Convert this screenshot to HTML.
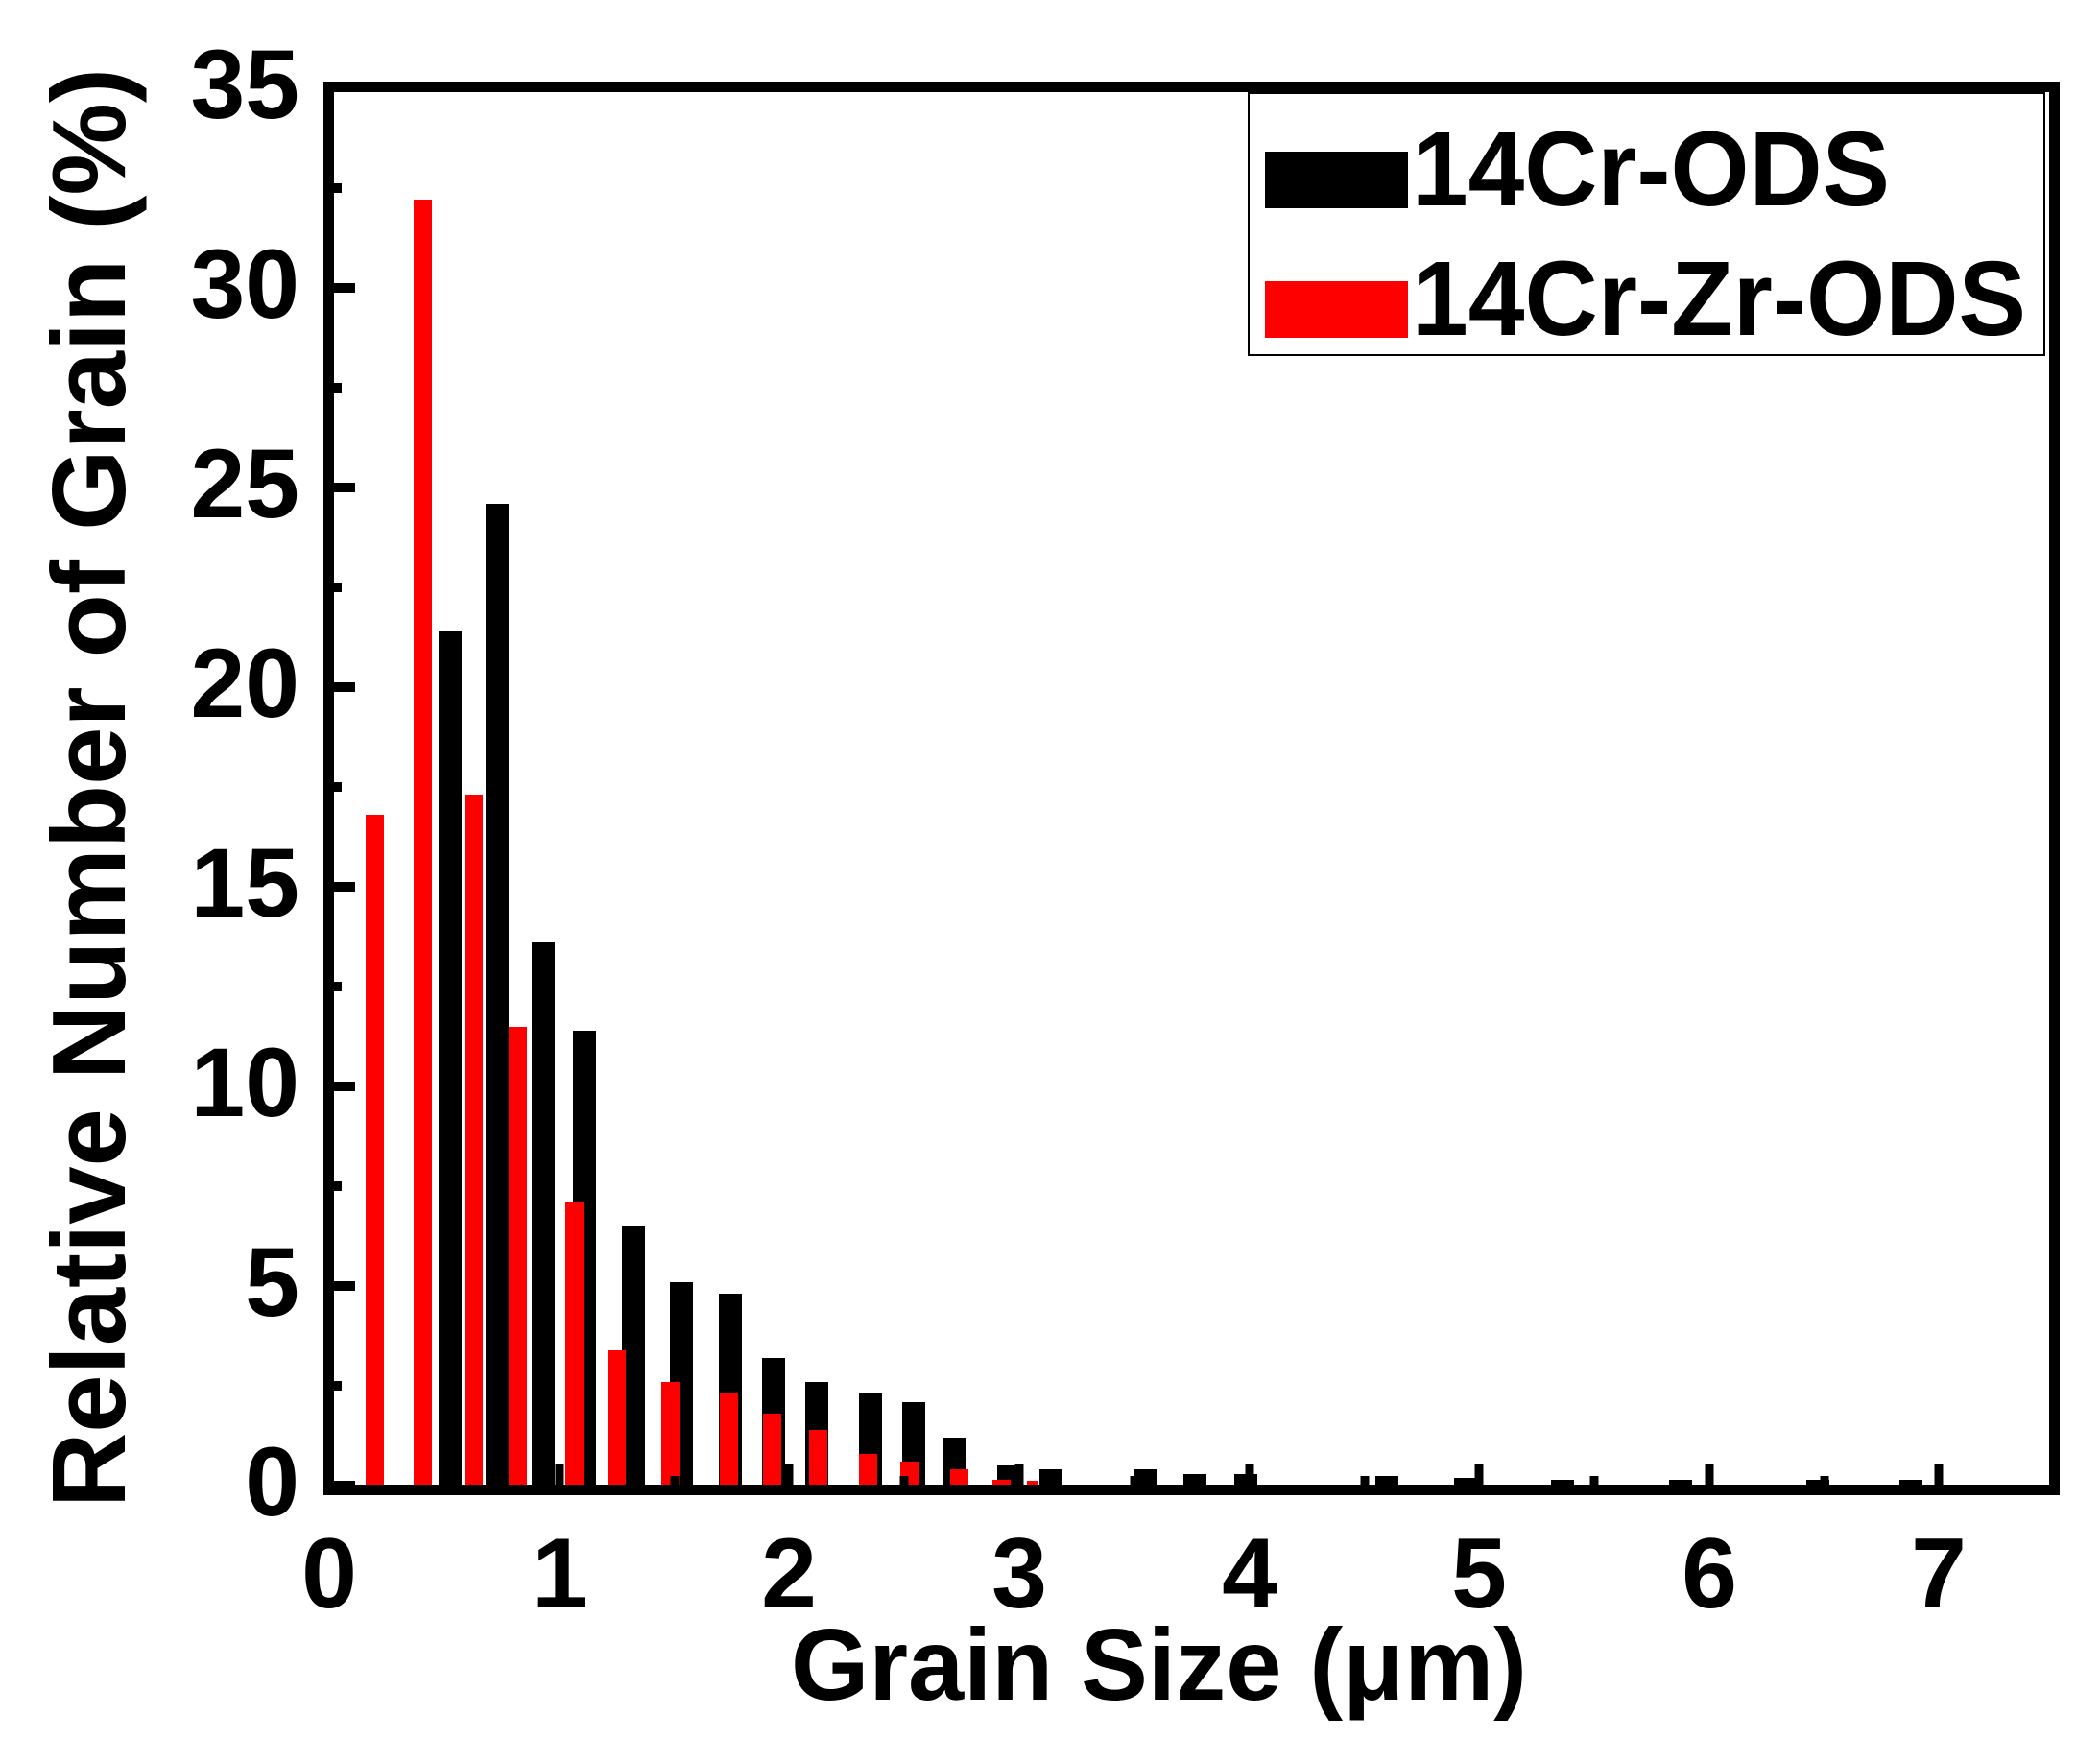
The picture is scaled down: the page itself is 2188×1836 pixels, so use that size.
<!DOCTYPE html>
<html><head><meta charset="utf-8"><style>
html,body{margin:0;padding:0;background:#fff;}
svg{display:block;}
text{font-family:"Liberation Sans",sans-serif;font-weight:bold;fill:#000;}
</style></head><body>
<svg width="2188" height="1836" viewBox="0 0 2188 1836" xmlns="http://www.w3.org/2000/svg">
<g fill="#000">
<rect x="457" y="658" width="24" height="890"/>
<rect x="506" y="525" width="24" height="1023"/>
<rect x="554" y="982" width="24" height="566"/>
<rect x="597" y="1074" width="24" height="474"/>
<rect x="648" y="1278" width="24" height="270"/>
<rect x="698" y="1336" width="24" height="212"/>
<rect x="749" y="1348" width="24" height="200"/>
<rect x="794" y="1415" width="24" height="133"/>
<rect x="839" y="1440" width="24" height="108"/>
<rect x="895" y="1452" width="24" height="96"/>
<rect x="940" y="1461" width="24" height="87"/>
<rect x="983" y="1498" width="24" height="50"/>
<rect x="1039" y="1527" width="24" height="21"/>
<rect x="1083" y="1531" width="24" height="17"/>
<rect x="1182" y="1531" width="24" height="17"/>
<rect x="1233" y="1536" width="24" height="12"/>
<rect x="1286" y="1536" width="24" height="12"/>
<rect x="1433" y="1538" width="24" height="10"/>
<rect x="1515" y="1540" width="24" height="8"/>
<rect x="1616" y="1542" width="24" height="6"/>
<rect x="1739" y="1542" width="24" height="6"/>
<rect x="1882" y="1542" width="24" height="6"/>
<rect x="1979" y="1542" width="24" height="6"/>
</g>
<g fill="#ff0000">
<rect x="381" y="849" width="19" height="699"/>
<rect x="431" y="208" width="19" height="1340"/>
<rect x="484" y="828" width="19" height="720"/>
<rect x="530" y="1070" width="19" height="478"/>
<rect x="589" y="1253" width="19" height="295"/>
<rect x="633" y="1407" width="19" height="141"/>
<rect x="689" y="1440" width="19" height="108"/>
<rect x="750" y="1452" width="19" height="96"/>
<rect x="795" y="1473" width="19" height="75"/>
<rect x="843" y="1490" width="19" height="58"/>
<rect x="895" y="1515" width="19" height="33"/>
<rect x="938" y="1523" width="19" height="25"/>
<rect x="990" y="1531" width="19" height="17"/>
<rect x="1034" y="1542" width="19" height="6"/>
<rect x="1070" y="1543" width="12" height="5"/>
</g>
<rect x="342.5" y="90.5" width="1798" height="1462" fill="none" stroke="#000" stroke-width="11"/>
<g stroke="#000" stroke-width="10">
<line x1="348" y1="1548" x2="370" y2="1548"/>
<line x1="348" y1="1340" x2="370" y2="1340"/>
<line x1="348" y1="1132" x2="370" y2="1132"/>
<line x1="348" y1="924" x2="370" y2="924"/>
<line x1="348" y1="716" x2="370" y2="716"/>
<line x1="348" y1="508" x2="370" y2="508"/>
<line x1="348" y1="300" x2="370" y2="300"/>
<line x1="348" y1="1444" x2="356" y2="1444"/>
<line x1="348" y1="1236" x2="356" y2="1236"/>
<line x1="348" y1="1028" x2="356" y2="1028"/>
<line x1="348" y1="820" x2="356" y2="820"/>
<line x1="348" y1="612" x2="356" y2="612"/>
<line x1="348" y1="404" x2="356" y2="404"/>
<line x1="348" y1="196" x2="356" y2="196"/>
</g>
<g stroke="#000" stroke-width="9">
<line x1="583" y1="1548" x2="583" y2="1526"/>
<line x1="822" y1="1548" x2="822" y2="1526"/>
<line x1="1062" y1="1548" x2="1062" y2="1526"/>
<line x1="1302" y1="1548" x2="1302" y2="1526"/>
<line x1="1541" y1="1548" x2="1541" y2="1526"/>
<line x1="1781" y1="1548" x2="1781" y2="1526"/>
<line x1="2020" y1="1548" x2="2020" y2="1526"/>
<line x1="463" y1="1548" x2="463" y2="1538"/>
<line x1="703" y1="1548" x2="703" y2="1538"/>
<line x1="942" y1="1548" x2="942" y2="1538"/>
<line x1="1182" y1="1548" x2="1182" y2="1538"/>
<line x1="1422" y1="1548" x2="1422" y2="1538"/>
<line x1="1661" y1="1548" x2="1661" y2="1538"/>
<line x1="1901" y1="1548" x2="1901" y2="1538"/>
</g>
<g font-size="102" text-anchor="end">
<text x="312" y="1579" transform="translate(0,0)">0</text>
<text x="312" y="1371">5</text>
<text x="312" y="1163">10</text>
<text x="312" y="955">15</text>
<text x="312" y="747">20</text>
<text x="312" y="539">25</text>
<text x="312" y="331">30</text>
<text x="312" y="123">35</text>
</g>
<g font-size="104" text-anchor="middle">
<text x="343" y="1675">0</text>
<text x="583" y="1675">1</text>
<text x="822" y="1675">2</text>
<text x="1062" y="1675">3</text>
<text x="1302" y="1675">4</text>
<text x="1541" y="1675">5</text>
<text x="1781" y="1675">6</text>
<text x="2020" y="1675">7</text>
</g>
<text x="824" y="1771" font-size="106" textLength="767" lengthAdjust="spacingAndGlyphs">Grain Size (μm)</text>
<text transform="translate(130,1571) rotate(-90)" font-size="109" textLength="1500" lengthAdjust="spacingAndGlyphs">Relative Number of Grain (%)</text>
<rect x="1301" y="97" width="829" height="273" fill="#fff" stroke="#000" stroke-width="2"/>
<rect x="1318" y="158" width="149" height="59" fill="#000"/>
<rect x="1318" y="293" width="149" height="59" fill="#ff0000"/>
<text x="1471" y="214" font-size="110" textLength="498" lengthAdjust="spacingAndGlyphs">14Cr-ODS</text>
<text x="1471" y="349" font-size="110" textLength="640" lengthAdjust="spacingAndGlyphs">14Cr-Zr-ODS</text>
</svg>
</body></html>
